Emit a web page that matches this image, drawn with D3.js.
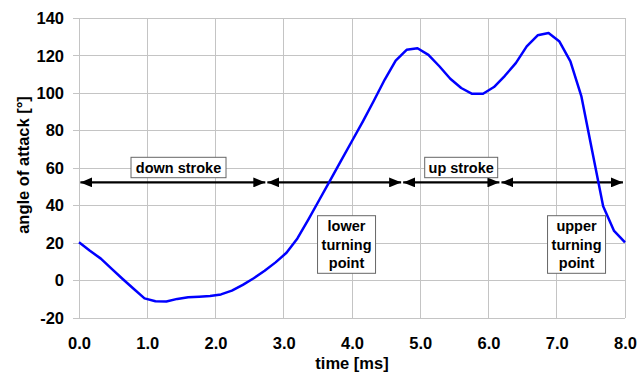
<!DOCTYPE html>
<html><head><meta charset="utf-8">
<script src="https://cdn.jsdelivr.net/npm/d3@7"></script>
<style>body{margin:0;background:#fff}svg{display:block;font-family:"Liberation Sans",Arial,sans-serif;font-weight:bold}</style>
</head><body>
<svg id="c" width="637" height="372"></svg>
<script>
const times = [0,0.16,0.32,0.48,0.64,0.80,0.96,1.12,1.28,1.44,1.60,1.76,1.92,2.08,2.24,2.40,2.56,2.72,2.88,3.04,3.20,3.36,3.52,3.68,3.84,4.00,4.16,4.32,4.48,4.64,4.80,4.96,5.12,5.28,5.44,5.60,5.76,5.92,6.08,6.24,6.40,6.56,6.72,6.88,7.04,7.20,7.36,7.52,7.68,7.84,8.00];
const angles = [20.4,15.9,11.7,6.2,0.8,-4.4,-9.5,-11.1,-11.2,-9.8,-8.9,-8.6,-8.2,-7.4,-5.4,-2.3,1.2,5.2,9.7,14.8,22.5,32.5,43,53.5,64,74.5,85,96,107.3,117.4,123.2,124,120.5,114.4,107.7,102.8,99.7,99.7,103.3,109.3,116.1,125,130.9,132.1,127.6,117,98.5,69,39.6,26.5,20.4];
const xTicks = [0,1,2,3,4,5,6,7,8];
const yTicks = [-20,0,20,40,60,80,100,120,140];
const phaseStart = [0.02,2.76,4.75,6.19];
const phaseEnd = [2.73,4.72,6.16,7.97];
const phaseLevel = 52.4;
const strokeLabels = ["down stroke","up stroke"];
const turnLabels = [["lower","turning","point"],["upper","turning","point"]];

const svg = d3.select("#c");
const x = d3.scaleLinear().domain([0,8]).range([79,625]);
const y = d3.scaleLinear().domain([-20,140]).range([318,18.3]);
const FONT = "Liberation Sans, Arial, sans-serif";

// grid
const grid = svg.append("g");
grid.selectAll("line.v").data(xTicks).join("line")
  .attr("x1",d=>x(d)).attr("x2",d=>x(d)).attr("y1",y(-20)).attr("y2",y(140))
  .attr("stroke","#c4c4c4").attr("stroke-width",1).attr("shape-rendering","crispEdges");
grid.selectAll("line.h").data(yTicks).join("line")
  .attr("x1",x(0)-6).attr("x2",x(8)).attr("y1",d=>y(d)).attr("y2",d=>y(d))
  .attr("stroke","#c4c4c4").attr("stroke-width",1).attr("shape-rendering","crispEdges");

// axes labels via d3 axes
const yAxis = svg.append("g").attr("transform",`translate(${x(0)},0)`)
  .call(d3.axisLeft(y).tickValues(yTicks).tickFormat(d=>String(d)).tickSize(0).tickPadding(15));
yAxis.select(".domain").remove();
yAxis.selectAll("text").attr("font-size",16.5).attr("font-weight","bold").attr("fill","#000")
  .attr("font-family",FONT);
const xAxis = svg.append("g").attr("transform",`translate(0,${y(-20)})`)
  .call(d3.axisBottom(x).tickValues(xTicks).tickFormat(d3.format(".1f")).tickSize(0).tickPadding(19.3));
xAxis.select(".domain").remove();
xAxis.selectAll("text").attr("font-size",16.5).attr("font-weight","bold").attr("fill","#000")
  .attr("font-family",FONT);

svg.append("text").attr("x",(x(0)+x(8))/2).attr("y",369).attr("text-anchor","middle")
  .attr("font-size",16.5).text("time [ms]");
svg.append("text").attr("transform",`translate(29,165) rotate(-90)`).attr("text-anchor","middle")
  .attr("font-size",16.5).text("angle of attack [°]");

// arrows
const defs = svg.append("defs");
defs.append("marker").attr("id","ah").attr("viewBox","0 0 12 10").attr("refX",12).attr("refY",5)
  .attr("markerWidth",12).attr("markerHeight",10).attr("markerUnits","userSpaceOnUse").attr("orient","auto-start-reverse")
  .append("path").attr("d","M0,0 L12,5 L0,10 Z").attr("fill","#000");
svg.append("g").selectAll("line").data(phaseStart).join("line")
  .attr("x1",d=>x(d)).attr("x2",(d,i)=>x(phaseEnd[i])).attr("y1",y(phaseLevel)).attr("y2",y(phaseLevel))
  .attr("stroke","#000").attr("stroke-width",2.2)
  .attr("marker-start","url(#ah)").attr("marker-end","url(#ah)");

// curve
svg.append("path").datum(times.map((t,i)=>[t,angles[i]]))
  .attr("d",d3.line().x(d=>x(d[0])).y(d=>y(d[1])))
  .attr("fill","none").attr("stroke","#0000ff").attr("stroke-width",2.5).attr("stroke-linejoin","round");

// stroke label boxes
const strokeBoxes = [{t:1.458,w:95},{t:5.6,w:73}];
strokeBoxes.forEach((b,i)=>{
  const cx = x(b.t), cy = 167.5;
  svg.append("rect").attr("x",cx-b.w/2).attr("y",cy-10.2).attr("width",b.w).attr("height",20.4)
    .attr("fill","#fff").attr("stroke","#666").attr("stroke-width",1);
  svg.append("text").attr("x",cx).attr("y",cy+5).attr("text-anchor","middle").attr("font-size",14.5).text(strokeLabels[i]);
});
const turnBoxes = [3.92,7.29];
turnBoxes.forEach((t,i)=>{
  const cx = x(t), cy = 244.5;
  svg.append("rect").attr("x",cx-29).attr("y",cy-28.8).attr("width",58).attr("height",57.6)
    .attr("fill","#fff").attr("stroke","#666").attr("stroke-width",1);
  turnLabels[i].forEach((s,j)=>{
    svg.append("text").attr("x",cx).attr("y",cy+(j-1)*18.3+5).attr("text-anchor","middle")
      .attr("font-size",14.5).text(s);
  });
});
</script>
</body></html>
